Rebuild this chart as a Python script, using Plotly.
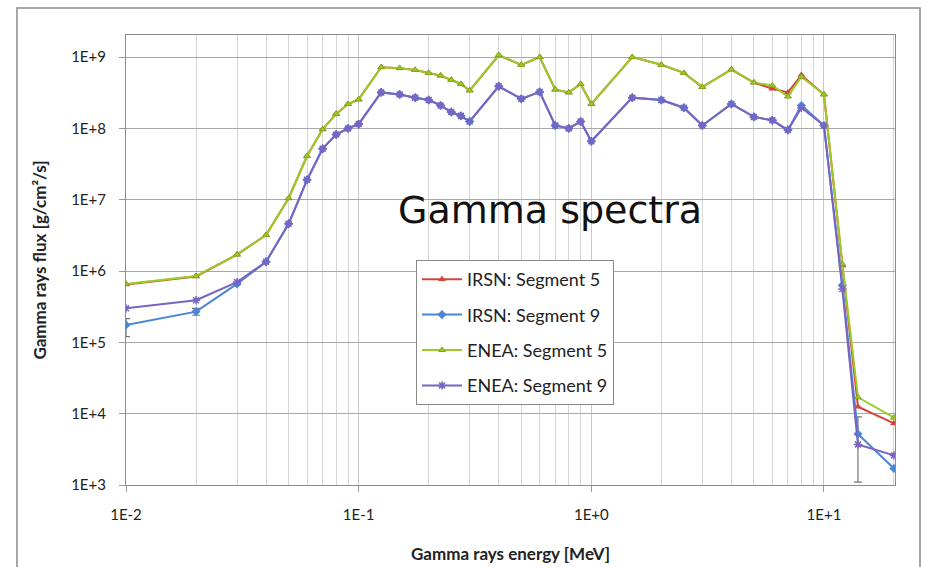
import plotly.graph_objects as go
import numpy as np

energy = [0.01, 0.02, 0.03, 0.04, 0.05, 0.06, 0.07, 0.08, 0.09, 0.1,
          0.125, 0.15, 0.175, 0.2, 0.225, 0.25, 0.275, 0.3, 0.4, 0.5,
          0.6, 0.7, 0.8, 0.9, 1.0, 1.5, 2.0, 2.5, 3.0, 4.0,
          5.0, 6.0, 7.0, 8.0, 10.0, 12.0, 14.0, 20.0]

enea_seg5 = [6.6e5, 8.5e5, 1.7e6, 3.2e6, 1.05e7, 4.1e7, 9.7e7, 1.6e8, 2.2e8, 2.55e8,
             7.2e8, 7.0e8, 6.6e8, 6.0e8, 5.5e8, 4.8e8, 4.2e8, 3.4e8, 1.07e9, 7.8e8,
             1.0e9, 3.5e8, 3.2e8, 4.2e8, 2.2e8, 1.0e9, 7.8e8, 6.0e8, 3.8e8, 6.7e8,
             4.4e8, 4.0e8, 2.8e8, 5.3e8, 3.0e8, 1.25e6, 1.7e4, 8.8e3]

irsn_seg5 = [6.5e5, 8.4e5, 1.7e6, 3.2e6, 1.05e7, 4.1e7, 9.7e7, 1.6e8, 2.2e8, 2.55e8,
             7.2e8, 7.0e8, 6.6e8, 6.0e8, 5.5e8, 4.8e8, 4.2e8, 3.4e8, 1.06e9, 7.8e8,
             1.0e9, 3.5e8, 3.2e8, 4.2e8, 2.2e8, 1.0e9, 7.8e8, 6.0e8, 3.8e8, 6.7e8,
             4.4e8, 3.6e8, 3.2e8, 5.6e8, 3.0e8, 1.2e6, 1.25e4, 7.3e3]

enea_seg9 = [3.0e5, 3.9e5, 7.0e5, 1.35e6, 4.6e6, 1.9e7, 5.2e7, 8.2e7, 1.0e8, 1.15e8,
             3.2e8, 3.0e8, 2.7e8, 2.5e8, 2.1e8, 1.7e8, 1.5e8, 1.25e8, 3.9e8, 2.6e8,
             3.25e8, 1.1e8, 1.0e8, 1.25e8, 6.6e7, 2.7e8, 2.5e8, 1.95e8, 1.1e8, 2.2e8,
             1.45e8, 1.3e8, 9.5e7, 1.95e8, 1.1e8, 5.6e5, 3.7e3, 2.6e3]

irsn_seg9 = [1.75e5, 2.7e5, 6.6e5, 1.35e6, 4.6e6, 1.9e7, 5.2e7, 8.2e7, 1.0e8, 1.15e8,
             3.2e8, 3.0e8, 2.7e8, 2.5e8, 2.1e8, 1.7e8, 1.5e8, 1.25e8, 3.9e8, 2.6e8,
             3.25e8, 1.1e8, 1.0e8, 1.25e8, 6.6e7, 2.7e8, 2.5e8, 1.95e8, 1.1e8, 2.2e8,
             1.45e8, 1.3e8, 9.5e7, 2.1e8, 1.1e8, 6.3e5, 5.2e3, 1.7e3]

# asymmetric error bars on IRSN segment 9 (visible ones only)
irsn_seg9_err_plus = [0.4e5, 0.3e5, 0, 0, 0, 0, 0, 0, 0, 0,
                      0, 0, 0, 0, 0, 0, 0, 0, 0, 0,
                      0, 0, 0, 0, 0, 0, 0, 0, 0, 0,
                      0, 0, 0, 0, 0, 0, 3.8e3, 0]
irsn_seg9_err_minus = [0.55e5, 0.3e5, 0, 0, 0, 0, 0, 0, 0, 0,
                       0, 0, 0, 0, 0, 0, 0, 0, 0, 0,
                       0, 0, 0, 0, 0, 0, 0, 0, 0, 0,
                       0, 0, 0, 0, 0, 0, 4.1e3, 0]

y_ticks = [1e3, 1e4, 1e5, 1e6, 1e7, 1e8, 1e9]
y_tick_text = ["1E+3", "1E+4", "1E+5", "1E+6", "1E+7", "1E+8", "1E+9"]
x_ticks = [0.01, 0.1, 1, 10]
x_tick_text = ["1E-2", "1E-1", "1E+0", "1E+1"]

RED = "#D2453C"
BLUE = "#4A86D6"
GREEN = "#9CCB24"
PURPLE = "#7864C2"
FONT = "Lato"

fig = go.Figure()
fig.add_trace(go.Scatter(
    x=energy, y=irsn_seg5, mode="lines+markers", name="IRSN: Segment 5",
    legendgroup="a",
    line=dict(color=RED, width=2),
    marker=dict(symbol="triangle-up", size=7, color=RED)))
fig.add_trace(go.Scatter(
    x=energy, y=irsn_seg9, mode="lines+markers", name="IRSN: Segment 9",
    legendgroup="b",
    line=dict(color=BLUE, width=2),
    marker=dict(symbol="diamond", size=7, color=BLUE),
    error_y=dict(type="data", symmetric=False, array=irsn_seg9_err_plus,
                 arrayminus=irsn_seg9_err_minus, color="#777777",
                 thickness=1.2, width=4)))
fig.add_trace(go.Scatter(
    x=energy, y=enea_seg5, mode="lines+markers", name="ENEA: Segment 5",
    legendgroup="c",
    line=dict(color=GREEN, width=2),
    marker=dict(symbol="triangle-up", size=6, color=GREEN,
                line=dict(color="#7FA61A", width=1))))
fig.add_trace(go.Scatter(
    x=energy, y=enea_seg9, mode="lines+markers", name="ENEA: Segment 9",
    legendgroup="d",
    line=dict(color=PURPLE, width=2),
    marker=dict(symbol="asterisk-open", size=7, color=PURPLE,
                line=dict(color=PURPLE, width=1.5))))

fig.add_annotation(
    text="Gamma spectra", xref="paper", yref="paper",
    x=(550 - 126) / 769, y=(485 - 210) / 450,
    xanchor="center", yanchor="middle", showarrow=False,
    font=dict(family="DejaVu Sans", size=38, color="#111111"))

# outer chart border
fig.add_shape(type="rect", xref="paper", yref="paper",
              x0=(17 - 126) / 769, x1=(920 - 126) / 769,
              y0=(485 - 575) / 450, y1=(485 - 8) / 450,
              line=dict(color="#8a8a8a", width=1.5), layer="below")

fig.update_layout(
    width=926, height=567,
    margin=dict(l=126, r=31, t=35, b=82),
    paper_bgcolor="white", plot_bgcolor="white",
    font=dict(family=FONT, size=15, color="#222222"),
    legend=dict(
        x=(416 - 126) / 769, y=(485 - 260) / 450,
        xanchor="left", yanchor="top",
        bgcolor="white", bordercolor="#888888", borderwidth=1,
        font=dict(family=FONT, size=18, color="#222222"),
        tracegroupgap=9, itemwidth=40),
    showlegend=True,
)

fig.update_xaxes(
    type="log", range=[-2, np.log10(20.2)],
    tickvals=x_ticks, ticktext=x_tick_text,
    ticks="outside", ticklen=6, tickcolor="#999999",
    ticklabelstandoff=10, automargin=False,
    showgrid=True, gridcolor="#c8c8c8", gridwidth=1,
    minor=dict(showgrid=True, dtick="D1", gridcolor="#d6d6d6", gridwidth=1, ticks=""),
    showline=True, linecolor="#8a8a8a", linewidth=1.2, mirror=True,
    zeroline=False,
    tickfont=dict(family=FONT, size=15, color="#222222"),
    title=dict(text="<b>Gamma rays energy [MeV]</b>", standoff=26,
               font=dict(family=FONT, size=17, color="#222222")),
)
fig.update_yaxes(
    type="log", range=[3, 9.31],
    tickvals=y_ticks, ticktext=y_tick_text,
    ticks="outside", ticklen=6, tickcolor="#999999",
    ticklabelstandoff=10, automargin=False,
    showgrid=True, gridcolor="#a8a8a8", gridwidth=1,
    showline=True, linecolor="#8a8a8a", linewidth=1.2, mirror=True,
    zeroline=False,
    tickfont=dict(family=FONT, size=15, color="#222222"),
    title=dict(text="<b>Gamma rays flux [g/cm²/s]</b>", standoff=20,
               font=dict(family=FONT, size=17, color="#222222")),
)

fig.write_html("out.html")
